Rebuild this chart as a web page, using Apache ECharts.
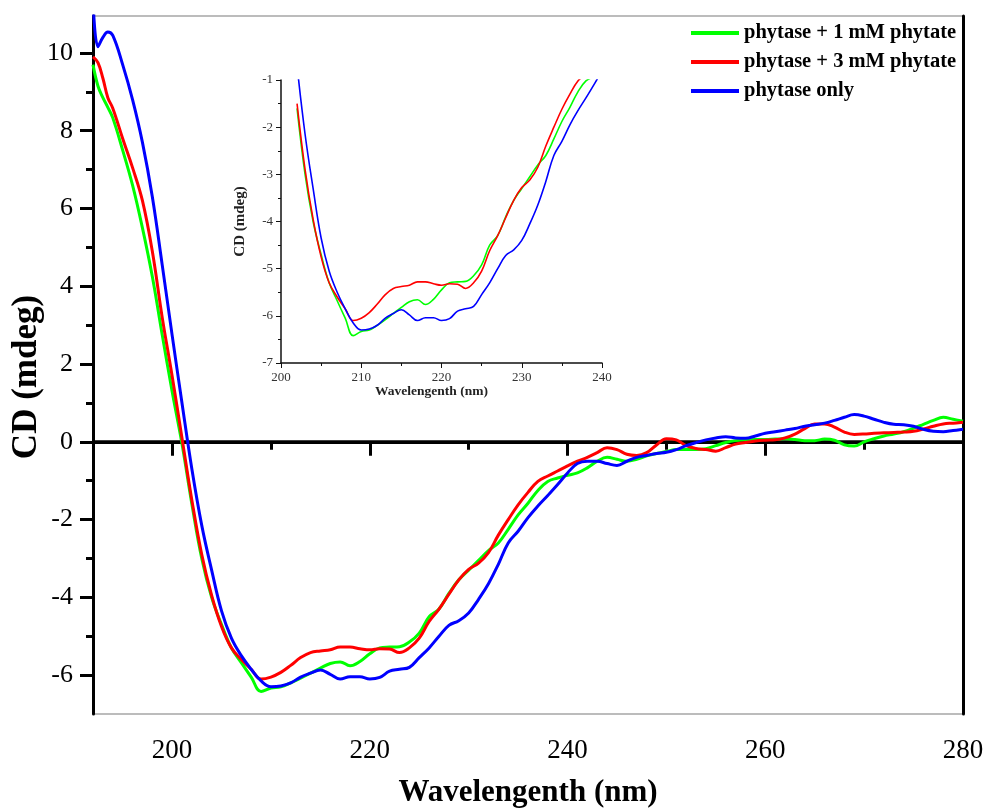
<!DOCTYPE html>
<html>
<head>
<meta charset="utf-8">
<script src="https://cdn.jsdelivr.net/npm/echarts@6/dist/echarts.min.js"></script>
<style>
  html, body { margin: 0; padding: 0; background: #ffffff; }
  #chart { width: 987px; height: 809px; }
</style>
</head>
<body>
<div id="chart"></div>
<script>
// Far-UV CD spectra of phytase with and without phytate (wavelength in nm, CD in mdeg)
const wavelength = [
  192, 192.5, 193, 193.5, 194, 195, 196, 197, 198, 199,
  200, 201, 202, 203, 204, 205, 206, 207, 208, 209,
  210, 211, 212, 213, 214, 215, 216, 217, 218, 219,
  220, 221, 222, 223, 224, 225, 226, 227, 228, 229,
  230, 231, 232, 233, 234, 235, 236, 237, 238, 239,
  240, 241, 242, 243, 244, 245, 246, 247, 248, 249,
  250, 251, 252, 253, 254, 255, 256, 257, 258, 259,
  260, 261, 262, 263, 264, 265, 266, 267, 268, 269,
  270, 271, 272, 273, 274, 275, 276, 277, 278, 279,
  280
];

const cdPhytate1mM = [
  9.7, 9.15, 8.85, 8.6, 8.33, 7.5, 6.6, 5.5, 4.25, 2.75,
  1.3, -0.05, -1.6, -3.0, -4.0, -4.7, -5.3, -5.68, -6.05, -6.42,
  -6.33, -6.3, -6.2, -6.08, -5.95, -5.82, -5.7, -5.66, -5.76, -5.65,
  -5.45, -5.3, -5.28, -5.27, -5.15, -4.92, -4.5, -4.3, -3.9, -3.55,
  -3.3, -3.05, -2.8, -2.6, -2.25, -1.88, -1.58, -1.25, -1.02, -0.93,
  -0.86, -0.8, -0.67, -0.5, -0.4, -0.45, -0.5, -0.45, -0.36, -0.3,
  -0.25, -0.2, -0.2, -0.2, -0.18, -0.1, -0.02, 0.03, 0.05, 0.06,
  0.06, 0.07, 0.08, 0.06, 0.03, 0.03, 0.07, 0.04, -0.08, -0.11,
  0.0, 0.08, 0.15, 0.2, 0.26, 0.35, 0.45, 0.55, 0.63, 0.58,
  0.53
];

const cdPhytate3mM = [
  9.9, 9.75, 9.35, 8.85, 8.58, 7.8, 7.05, 6.2, 4.9, 3.2,
  1.7, 0.1, -1.5, -2.9, -3.95, -4.75, -5.3, -5.6, -5.85, -6.1,
  -6.05, -5.93, -5.75, -5.55, -5.42, -5.38, -5.35, -5.28, -5.28, -5.32,
  -5.35, -5.32, -5.33, -5.42, -5.3, -5.05, -4.62, -4.3, -3.92, -3.55,
  -3.28, -3.12, -2.85, -2.4, -2.0, -1.62, -1.3, -1.02, -0.88, -0.75,
  -0.62, -0.5, -0.4, -0.28, -0.15, -0.2, -0.32, -0.35, -0.28, -0.08,
  0.08, 0.05, -0.1, -0.17, -0.2, -0.24, -0.15, -0.06, -0.02, 0.02,
  0.04, 0.05, 0.1, 0.2, 0.34, 0.46, 0.46, 0.38, 0.25, 0.19,
  0.2, 0.22, 0.23, 0.24, 0.25, 0.27, 0.33, 0.4, 0.46, 0.48,
  0.5
];

const cdPhytaseOnly = [
  11.4, 10.16, 10.4, 10.54, 10.45, 9.7, 8.8, 7.7, 6.3, 4.55,
  2.75, 1.0, -0.7, -2.15, -3.3, -4.35, -5.05, -5.5, -5.85, -6.15,
  -6.3, -6.28, -6.2, -6.05, -5.95, -5.87, -5.98, -6.1, -6.04, -6.04,
  -6.1, -6.06, -5.9, -5.85, -5.8, -5.55, -5.3, -5.0, -4.72, -4.6,
  -4.4, -4.05, -3.65, -3.15, -2.6, -2.3, -1.95, -1.65, -1.38, -1.1,
  -0.8, -0.56, -0.5, -0.5, -0.56, -0.61, -0.5, -0.4, -0.35, -0.3,
  -0.27, -0.2, -0.1, -0.02, 0.05, 0.1, 0.13, 0.1, 0.09, 0.15,
  0.22, 0.26, 0.3, 0.34, 0.4, 0.44, 0.48, 0.55, 0.63, 0.7,
  0.66, 0.58, 0.5, 0.45, 0.44, 0.4, 0.32, 0.27, 0.26, 0.29,
  0.32
];

const seriesNames = ['phytase + 1 mM phytate', 'phytase + 3 mM phytate', 'phytase only'];
const seriesValues = [cdPhytate1mM, cdPhytate3mM, cdPhytaseOnly];
const seriesColors = ['#00ff00', '#ff0000', '#0000ff'];

// main axes
const xRange = [192, 280];
const yRange = [-7, 10.95];
const xMajorTicks = [200, 220, 240, 260, 280];
const xMinorTicks = [210, 230, 250, 270];
const yMajorTicks = [-6, -4, -2, 0, 2, 4, 6, 8, 10];
const yMinorTicks = [-5, -3, -1, 1, 3, 5, 7, 9];

// inset (zoom on the 200-240 nm trough)
const insetXRange = [200, 240];
const insetYRange = [-7, -1];
const insetStart = 202;

const FONT = 'Liberation Serif';

const pairs = (vals) => wavelength.map((w, i) => [w, vals[i]]);
const insetPairs = (vals) => pairs(vals).filter(p => p[0] >= insetStart && p[0] <= insetXRange[1]);

const mainSeries = seriesValues.map((vals, k) => ({
  name: seriesNames[k],
  type: 'line',
  xAxisIndex: 0,
  yAxisIndex: 0,
  data: pairs(vals),
  smooth: 0.4,
  symbol: 'none',
  showSymbol: false,
  clip: true,
  z: 3,
  lineStyle: { color: seriesColors[k], width: 3 },
  itemStyle: { color: seriesColors[k] }
}));

const insetSeries = seriesValues.map((vals, k) => ({
  name: seriesNames[k],
  type: 'line',
  xAxisIndex: 2,
  yAxisIndex: 3,
  data: insetPairs(vals),
  smooth: 0.4,
  symbol: 'none',
  showSymbol: false,
  clip: true,
  z: 3,
  lineStyle: { color: seriesColors[k], width: 1.6 },
  itemStyle: { color: seriesColors[k] }
}));

const zeroLine = {
  name: 'zero',
  type: 'line',
  xAxisIndex: 0,
  yAxisIndex: 0,
  data: [[xRange[0], 0], [xRange[1], 0]],
  symbol: 'none',
  silent: true,
  z: 2,
  lineStyle: { color: '#000', width: 3 }
};

const noSplit = { show: false };
const blackLine = (w) => ({ show: true, lineStyle: { color: '#000', width: w } });

const option = {
  animation: false,
  backgroundColor: '#ffffff',
  grid: [
    // thin grey frame; left, bottom and right edges are covered by the heavy axis lines
    { left: 93, top: 16, right: 24, bottom: 95, containLabel: false, outerBoundsMode: 'none',
      show: true, borderColor: '#7a7a7a', borderWidth: 1.2, backgroundColor: 'transparent' },
    { left: 281, top: 80, right: 385, bottom: 446, containLabel: false, outerBoundsMode: 'none' }
  ],
  legend: {
    data: seriesNames,
    orient: 'vertical',
    left: 686,
    top: 17,
    icon: 'rect',
    itemWidth: 48,
    itemHeight: 4,
    itemGap: 7,
    textStyle: { fontFamily: FONT, fontWeight: 'bold', fontSize: 20.5, color: '#000', lineHeight: 22 }
  },
  xAxis: [
    {
      gridIndex: 0, type: 'value', min: xRange[0], max: xRange[1], position: 'bottom',
      axisLine: blackLine(3),
      axisTick: { show: true, customValues: xMajorTicks, length: 14, lineStyle: { color: '#000', width: 3 } },
      axisLabel: { customValues: xMajorTicks, fontFamily: FONT, fontSize: 27, color: '#000', margin: 23 },
      splitLine: noSplit,
      name: 'Wavelengenth (nm)', nameLocation: 'middle', nameGap: 63,
      nameTextStyle: { fontFamily: FONT, fontWeight: 'bold', fontSize: 31, color: '#000' }
    },
    {
      gridIndex: 0, type: 'value', min: xRange[0], max: xRange[1], position: 'bottom',
      axisLine: { show: false },
      axisTick: { show: true, customValues: xMinorTicks, length: 8, lineStyle: { color: '#000', width: 3 } },
      axisLabel: { show: false },
      splitLine: noSplit
    },
    {
      gridIndex: 1, type: 'value', min: insetXRange[0], max: insetXRange[1], interval: 10, position: 'bottom',
      axisLine: { show: true, lineStyle: { color: '#111', width: 1.5 } },
      axisTick: { show: true, length: 5, lineStyle: { color: '#111', width: 1 } },
      minorTick: { show: true, splitNumber: 2, length: 3, lineStyle: { color: '#111', width: 1 } },
      axisLabel: { fontFamily: FONT, fontSize: 13, color: '#333', margin: 8 },
      splitLine: noSplit, minorSplitLine: { show: false },
      name: 'Wavelengenth (nm)', nameLocation: 'middle', nameGap: 18,
      nameTextStyle: { fontFamily: FONT, fontWeight: 'bold', fontSize: 13.5, color: '#222', padding: [0, 20, 0, 0] }
    }
  ],
  yAxis: [
    {
      gridIndex: 0, type: 'value', min: yRange[0], max: yRange[1], position: 'left',
      axisLine: blackLine(3),
      axisTick: { show: true, customValues: yMajorTicks, length: 13, lineStyle: { color: '#000', width: 3 } },
      axisLabel: { customValues: yMajorTicks, fontFamily: FONT, fontSize: 26, color: '#000', margin: 20 },
      splitLine: noSplit,
      name: 'CD (mdeg)', nameLocation: 'middle', nameGap: 49, nameMoveOverlap: false,
      nameTextStyle: { fontFamily: FONT, fontWeight: 'bold', fontSize: 35, color: '#000', padding: [0, 24, 0, 0] }
    },
    {
      gridIndex: 0, type: 'value', min: yRange[0], max: yRange[1], position: 'left',
      axisLine: { show: false },
      axisTick: { show: true, customValues: yMinorTicks, length: 7, lineStyle: { color: '#000', width: 3 } },
      axisLabel: { show: false },
      splitLine: noSplit
    },
    {
      gridIndex: 0, type: 'value', min: yRange[0], max: yRange[1], position: 'right',
      axisLine: blackLine(3),
      axisTick: { show: false }, axisLabel: { show: false }, splitLine: noSplit
    },
    {
      gridIndex: 1, type: 'value', min: insetYRange[0], max: insetYRange[1], interval: 1, position: 'left',
      axisLine: { show: true, lineStyle: { color: '#111', width: 1.5 } },
      axisTick: { show: true, length: 5, lineStyle: { color: '#111', width: 1 } },
      minorTick: { show: true, splitNumber: 2, length: 3, lineStyle: { color: '#111', width: 1 } },
      axisLabel: { fontFamily: FONT, fontSize: 13, color: '#333', margin: 8 },
      splitLine: noSplit, minorSplitLine: { show: false },
      name: 'CD (mdeg)', nameLocation: 'middle', nameGap: 33,
      nameTextStyle: { fontFamily: FONT, fontWeight: 'bold', fontSize: 15, color: '#222' }
    }
  ],
  series: [zeroLine].concat(mainSeries, insetSeries)
};

const chart = echarts.init(document.getElementById('chart'), null, { renderer: 'canvas' });
chart.setOption(option);
</script>
</body>
</html>
